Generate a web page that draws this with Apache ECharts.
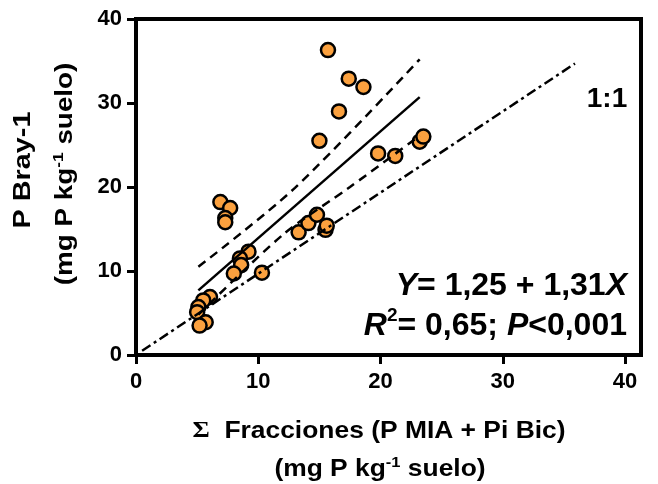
<!DOCTYPE html>
<html>
<head>
<meta charset="utf-8">
<script src="https://cdn.jsdelivr.net/npm/echarts@6/dist/echarts.min.js"></script>
<style>
html,body{margin:0;padding:0;background:#fff;}
#chart{width:658px;height:484px;}
</style>
</head>
<body>
<div id="chart"></div>
<script>
// ---- data ----
var pointsX = [15.7, 17.4, 18.6, 16.6, 15.0, 19.8, 21.2, 23.2, 23.5, 13.3, 14.1, 14.8, 15.5, 15.6, 6.9, 7.7, 7.3, 7.3, 9.2, 8.5, 8.6, 8.0, 10.3, 6.05, 5.5, 5.1, 5.0, 5.7, 5.2];
var pointsY = [36.3, 32.9, 31.9, 29.0, 25.5, 24.0, 23.7, 25.4, 26.0, 14.6, 15.7, 16.7, 14.9, 15.4, 18.2, 17.5, 16.3, 15.8, 12.3, 11.5, 10.7, 9.7, 9.8, 6.9, 6.5, 5.7, 5.1, 3.9, 3.5];
var fitX = [5.1, 23.2];
var fitY = [7.7, 30.7];
var upperX = [5.1, 13.0, 23.2];
var upperY = [10.5, 19.9, 35.2];
var lowerX = [5.1, 12.0, 17.5, 23.2];
var lowerY = [4.8, 14.3, 20.0, 26.1];
var oneX = [0.5, 35.9];
var oneY = [0.5, 34.7];
var xTicks = [0, 10, 20, 30, 40];
var yTicks = [0, 10, 20, 30, 40];

function zip(a, b) { return a.map(function (v, i) { return [v, b[i]]; }); }

var FONT = 'Liberation Sans, Arial, sans-serif';
var chart = echarts.init(document.getElementById('chart'), null, {renderer: 'canvas'});
var eq = {fontFamily: FONT, fontWeight: 'bold', fontSize: 32, color: '#000'};
var tA = {fontFamily: FONT, fontWeight: 'bold', fontSize: 24, color: '#000', verticalAlign: 'bottom'};
var tS = {fontFamily: FONT, fontWeight: 'bold', fontSize: 15, color: '#000', verticalAlign: 'bottom', padding: [0, 0, 11, 0]};
var tG = {fontFamily: 'Liberation Serif, serif', fontWeight: 'bold', fontSize: 24, color: '#000', verticalAlign: 'bottom'};
var SX = 1.10;
chart.setOption({
  animation: false,
  grid: {left: 136, top: 19, width: 505, height: 336, show: true, borderColor: '#000', borderWidth: 4, backgroundColor: 'transparent'},
  xAxis: {
    type: 'value', min: 0, max: 41.3,
    splitLine: {show: false},
    axisLine: {lineStyle: {color: '#000', width: 4}},
    axisTick: {customValues: xTicks, length: 9, lineStyle: {color: '#000', width: 3}},
    axisLabel: {customValues: xTicks, margin: 16, color: '#000', fontFamily: FONT, fontWeight: 'bold', fontSize: 22}
  },
  yAxis: {
    type: 'value', min: 0, max: 40, interval: 10,
    splitLine: {show: false},
    axisLine: {lineStyle: {color: '#000', width: 4}},
    axisTick: {customValues: yTicks, length: 9, lineStyle: {color: '#000', width: 3}},
    axisLabel: {customValues: yTicks, margin: 14, color: '#000', fontFamily: FONT, fontWeight: 'bold', fontSize: 22}
  },
  graphic: [
    {type: 'text', x: 379, y: 419, scaleX: SX, style: {
      text: '{g|\u03A3}{a|  Fracciones (P MIA + Pi Bic)}', align: 'center', verticalAlign: 'top',
      rich: {a: tA, g: tG}
    }},
    {type: 'text', x: 380, y: 455, scaleX: SX, style: {
      text: '{a|(mg P kg}{s|-1}{a| suelo)}', align: 'center', verticalAlign: 'top',
      rich: {a: tA, s: tS}
    }},
    {type: 'text', x: 23, y: 170, scaleX: 1.2, rotation: Math.PI / 2, style: {
      text: '{a|P Bray-1}', align: 'center', verticalAlign: 'middle',
      rich: {a: {fontFamily: FONT, fontWeight: 'bold', fontSize: 24, color: '#000'}}
    }},
    {type: 'text', x: 64, y: 174, scaleX: 1.16, rotation: Math.PI / 2, style: {
      text: '{a|(mg P kg}{s|-1}{a| suelo)}', align: 'center', verticalAlign: 'middle',
      rich: {a: tA, s: tS}
    }},
    {type: 'text', x: 627, y: 286, style: {
      text: '{i|Y}{b|= 1,25 + 1,31}{i|X}', align: 'right', verticalAlign: 'middle',
      rich: {b: eq, i: Object.assign({}, eq, {fontStyle: 'italic'})}
    }},
    {type: 'text', x: 627, y: 342, style: {
      text: '{i|R}{s|2}{b|= 0,65; }{i|P}{b|<0,001}', align: 'right', verticalAlign: 'bottom',
      rich: {b: Object.assign({}, eq, {verticalAlign: 'bottom'}),
             i: Object.assign({}, eq, {fontStyle: 'italic', verticalAlign: 'bottom'}),
             s: Object.assign({}, eq, {fontSize: 19, verticalAlign: 'bottom', padding: [0, 0, 17, 0]})}
    }},
    {type: 'text', x: 607, y: 99, style: {
      text: '1:1', align: 'center', verticalAlign: 'middle',
      fontFamily: FONT, fontWeight: 'bold', fontSize: 28, fill: '#000'
    }}
  ],
  series: [
    {type: 'scatter', data: zip(pointsX, pointsY), symbol: 'circle', symbolSize: 14,
     itemStyle: {color: '#FBA13F', borderColor: '#000', borderWidth: 2.5, opacity: 1}},
    {type: 'line', data: zip(fitX, fitY), showSymbol: false, symbol: 'none',
     lineStyle: {color: '#000', width: 2.5, type: 'solid'}},
    {type: 'line', data: zip(upperX, upperY), showSymbol: false, symbol: 'none', smooth: 0.3,
     lineStyle: {color: '#000', width: 2.5, type: [9, 6]}},
    {type: 'line', data: zip(lowerX, lowerY), showSymbol: false, symbol: 'none', smooth: 0.3,
     lineStyle: {color: '#000', width: 2.5, type: [9, 6]}},
    {type: 'line', data: zip(oneX, oneY), showSymbol: false, symbol: 'none',
     lineStyle: {color: '#000', width: 2.5, type: [10, 4, 3, 4]}}
  ]
});
</script>
</body>
</html>
